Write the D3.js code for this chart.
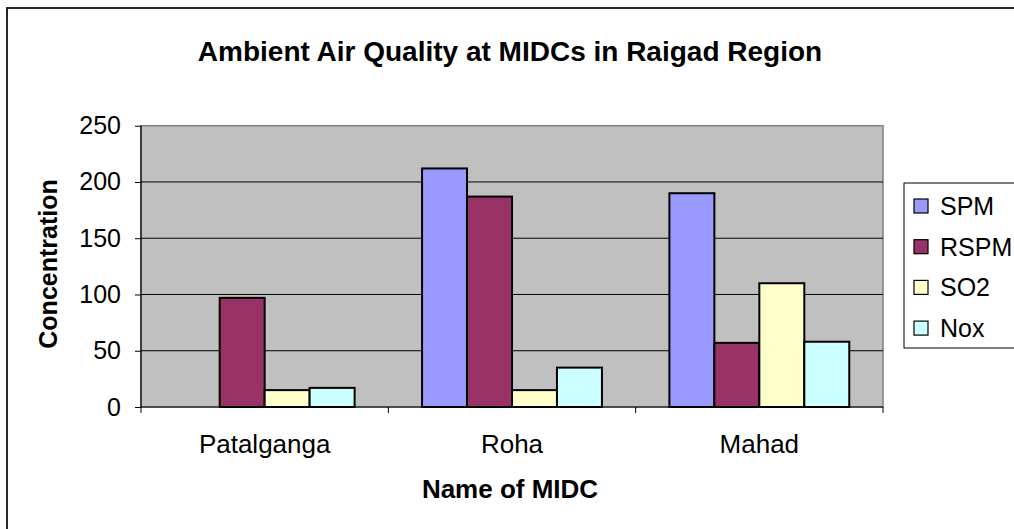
<!DOCTYPE html>
<html><head><meta charset="utf-8">
<script src="https://cdn.jsdelivr.net/npm/d3@7"></script>
<style>body{margin:0;background:#fff}svg{display:block}text{font-family:"Liberation Sans",Arial,sans-serif;fill:#000}</style>
</head><body><svg id="c" width="1014" height="529"></svg>
<script>
const categories = ["Patalganga", "Roha", "Mahad"];
const seriesNames = ["SPM", "RSPM", "SO2", "Nox"];
const SPM  = [0, 212, 190];
const RSPM = [97, 187, 57];
const SO2  = [15, 15, 110];
const Nox  = [17, 35, 58];
const yTicks = [0, 50, 100, 150, 200, 250];
const colors = ["#9999FF", "#993366", "#FFFFCC", "#CCFFFF"];
const seriesValues = [SPM, RSPM, SO2, Nox];

const svg = d3.select("#c");
const L = 141, R = 883, T = 125.7, B = 407;
const FONT = "Liberation Sans, Arial, sans-serif";

svg.append("rect").attr("x", 7).attr("y", 8).attr("width", 1020).attr("height", 540)
  .attr("fill", "#fff").attr("stroke", "#111").attr("stroke-width", 1.8);

svg.append("rect").attr("x", L).attr("y", T).attr("width", R - L).attr("height", B - T)
  .attr("fill", "#C0C0C0").attr("stroke", "#808080").attr("stroke-width", 1.5);

const x0 = d3.scaleBand().domain(categories).range([L, R]).paddingInner(0).paddingOuter(0);
const y = d3.scaleLinear().domain([0, 250]).range([B, T]);

// gridlines
svg.append("g").selectAll("line").data(yTicks.filter(t => t > 0 && t < 250)).join("line")
  .attr("x1", L).attr("x2", R).attr("y1", d => y(d)).attr("y2", d => y(d))
  .attr("stroke", "#000").attr("stroke-width", 1);

// bars
const bw = x0.bandwidth() / 5.5;
const data = [];
categories.forEach((c, i) => seriesNames.forEach((s, j) => data.push({c, j, v: seriesValues[j][i]})));
svg.append("g").selectAll("rect").data(data.filter(d => d.v > 0)).join("rect")
  .attr("x", d => x0(d.c) + bw * 0.75 + d.j * bw)
  .attr("y", d => y(d.v))
  .attr("width", bw)
  .attr("height", d => B - y(d.v))
  .attr("fill", d => colors[d.j])
  .attr("stroke", "#000").attr("stroke-width", 2);

// y axis
const yAxis = d3.axisLeft(y).tickValues(yTicks).tickSize(6).tickPadding(14);
const gy = svg.append("g").attr("transform", `translate(${L},0)`).call(yAxis);
gy.select(".domain").attr("stroke", "#000").attr("stroke-width", 1.2).attr("d", `M0,${T}V${B}`);
gy.selectAll(".tick line").attr("stroke", "#000");
gy.selectAll(".tick text").attr("font-size", 25).attr("font-family", FONT).attr("fill", "#000");

// x axis
const xAxis = d3.axisBottom(x0).tickSize(0).tickPadding(0);
const gx = svg.append("g").attr("transform", `translate(0,${B})`).call(xAxis);
gx.select(".domain").attr("stroke", "#000").attr("stroke-width", 1.2).attr("d", `M${L},0H${R}`);
gx.selectAll(".tick text").attr("font-size", 26).attr("font-family", FONT).attr("fill", "#000")
  .attr("dy", null).attr("y", 46);
const bounds = categories.map(c => x0(c)).concat([R]);
gx.append("g").selectAll("line").data(bounds).join("line")
  .attr("x1", d => d).attr("x2", d => d).attr("y1", 0).attr("y2", 6).attr("stroke", "#000");

// titles
svg.append("text").attr("x", 510).attr("y", 61).attr("text-anchor", "middle")
  .attr("font-size", 28).attr("font-weight", "bold").text("Ambient Air Quality at MIDCs in Raigad Region");
svg.append("text").attr("x", 510).attr("y", 498).attr("text-anchor", "middle")
  .attr("font-size", 26).attr("font-weight", "bold").text("Name of MIDC");
svg.append("text").attr("transform", "translate(57,264) rotate(-90)").attr("text-anchor", "middle")
  .attr("font-size", 25).attr("font-weight", "bold").text("Concentration");

// legend
const lg = svg.append("g");
lg.append("rect").attr("x", 904).attr("y", 183).attr("width", 130).attr("height", 165)
  .attr("fill", "#fff").attr("stroke", "#000").attr("stroke-width", 1);
const li = lg.selectAll("g.li").data(seriesNames).join("g").attr("class", "li")
  .attr("transform", (d, i) => `translate(0,${215 + i * 40.7})`);
li.append("rect").attr("x", 914).attr("y", -16).attr("width", 14).attr("height", 14)
  .attr("fill", (d, i) => colors[i]).attr("stroke", "#000").attr("stroke-width", 1.2);
li.append("text").attr("x", 940).attr("y", 0).attr("font-size", 25).text(d => d);
</script></body></html>
